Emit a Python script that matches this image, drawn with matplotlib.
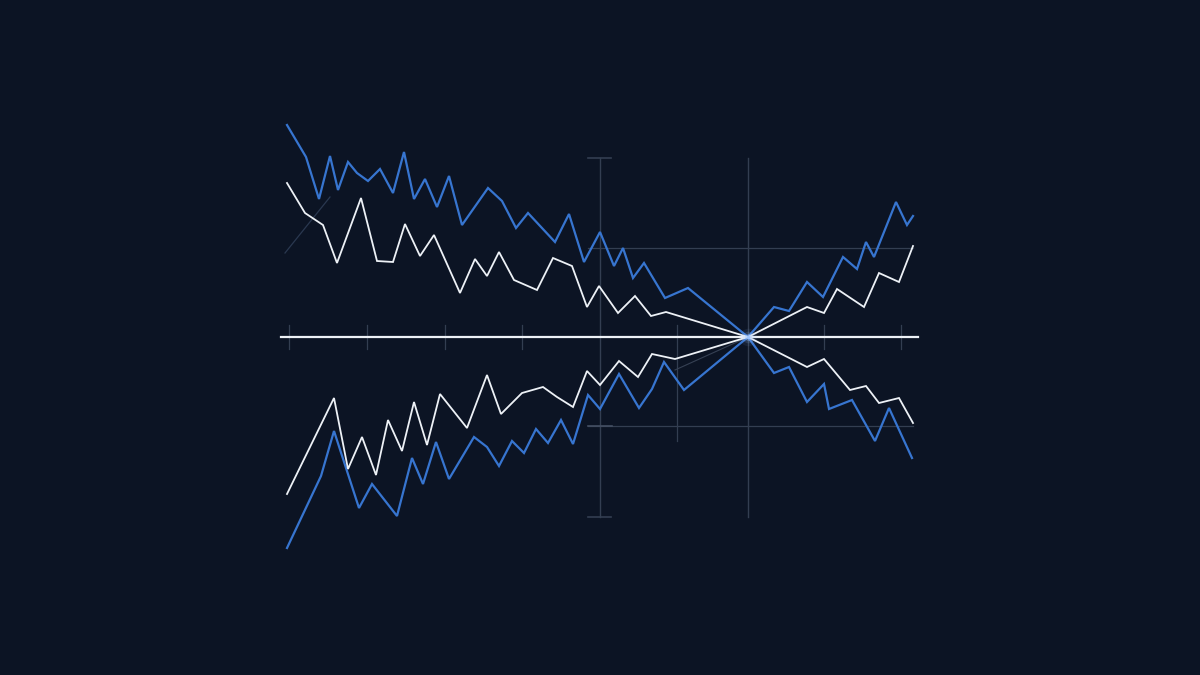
import matplotlib
matplotlib.use("Agg")
import matplotlib.pyplot as plt

# offsets from the start of the series (x) and from the baseline (y, up is positive)
blue_top_x = [0, 19, 32, 43, 51, 61, 70, 81, 93, 106, 117, 127, 138, 150, 162, 175, 201, 215, 229, 241,
              268, 282, 297, 313, 327, 336, 346, 357, 378, 401, 461,
              487, 502, 520, 536, 556, 570, 579, 587, 609, 620, 626]
blue_top_y = [212, 180, 138, 181, 147, 175, 164, 156, 168, 144, 185, 138, 158, 130, 161, 112, 149, 136, 109, 124,
              95, 123, 75, 105, 71, 89, 59, 74, 39, 49, 0,
              30, 26, 55, 40, 80, 68, 95, 80, 135, 112, 121]

white_top_x = [0, 18, 36, 50, 74, 90, 106, 118, 133, 147, 173, 188, 200, 212, 227, 250, 266, 285, 300, 312,
               331, 348, 364, 379, 461,
               520, 537, 550, 577, 592, 612, 626]
white_top_y = [154, 124, 112, 74, 139, 76, 75, 113, 81, 102, 44, 78, 61, 85, 57, 47, 79, 71, 30, 51,
               24, 41, 21, 25, 0,
               30, 24, 48, 30, 64, 55, 91]

white_bot_x = [0, 47, 61, 75, 89, 101, 115, 127, 140, 153, 180, 200, 214, 235, 256, 270, 286, 300, 313, 332,
               351, 365, 388, 461,
               520, 537, 563, 579, 592, 612, 626]
white_bot_y = [-157, -61, -132, -100, -138, -83, -114, -65, -108, -57, -91, -38, -77, -56, -50, -60, -70, -34, -48, -24,
               -40, -17, -22, 0,
               -30, -22, -53, -49, -66, -61, -86]

blue_bot_x = [0, 34, 47, 72, 85, 110, 125, 136, 149, 162, 187, 200, 212, 225, 237, 249, 261, 274, 286, 301,
              313, 332, 352, 365, 377, 397, 461,
              487, 502, 520, 537, 542, 565, 588, 602, 625]
blue_bot_y = [-211, -139, -94, -171, -147, -179, -121, -147, -105, -142, -100, -110, -129, -104, -116, -92, -106, -83, -107, -58,
              -72, -37, -71, -52, -25, -53, 0,
              -36, -30, -65, -47, -72, -63, -104, -71, -121]

tick_x = [2, 80, 158, 235, 537, 614]
cross_x = [312.5, 461]      # long vertical guides
guide_y = [89, -89]         # horizontal guides

BG = "#0c1424"
BLUE = "#3775d0"
WHITE = "#edf1f6"
GRID = "#333e51"

fig = plt.figure(figsize=(12, 6.75), dpi=100, facecolor=BG)
ax = fig.add_axes([0, 0, 1, 1])
ax.set_facecolor(BG)
ax.set_xlim(-287, 913)
ax.set_ylim(-338, 337)
ax.axis("off")

# guide lines
for gx in cross_x:
    ax.plot([gx, gx], [179, -180], color=GRID, lw=1.0, zorder=1)
for gy in guide_y:
    ax.plot([301, 626], [gy, gy], color=GRID, lw=0.9, zorder=1)
ax.plot([301, 324], [179, 179], color=GRID, lw=1.2, zorder=1)
ax.plot([301, 324], [-180, -180], color=GRID, lw=1.2, zorder=1)
ax.plot([301, 325], [-89, -89], color="#434e62", lw=1.2, zorder=1)
ax.plot([390, 390], [12, -104], color=GRID, lw=0.9, zorder=1)
for tx in tick_x:
    ax.plot([tx, tx], [12, -12], color=GRID, lw=0.9, zorder=1)

# faint diagonals
ax.plot([-2, 43], [84, 140], color="#2a3850", lw=0.9, zorder=1)
ax.plot([388, 461], [-33, 0], color="#364154", lw=0.8, zorder=1)

# baseline
ax.plot([-6, 631], [0, 0], color=WHITE, lw=1.6, zorder=2)

ax.plot(blue_top_x, blue_top_y, color=BLUE, lw=1.6, zorder=3, solid_joinstyle="miter")
ax.plot(blue_bot_x, blue_bot_y, color=BLUE, lw=1.6, zorder=3, solid_joinstyle="miter")
ax.plot(white_top_x, white_top_y, color=WHITE, lw=1.3, zorder=4, solid_joinstyle="miter")
ax.plot(white_bot_x, white_bot_y, color=WHITE, lw=1.3, zorder=4, solid_joinstyle="miter")

# glow at the meeting point
for s, a in [(160, 0.08), (70, 0.15), (25, 0.35), (6, 0.9)]:
    ax.scatter([461], [0], s=s, color="#9cc4ff", alpha=a, lw=0, zorder=5)

fig.savefig("out.png", dpi=100, facecolor=BG)
